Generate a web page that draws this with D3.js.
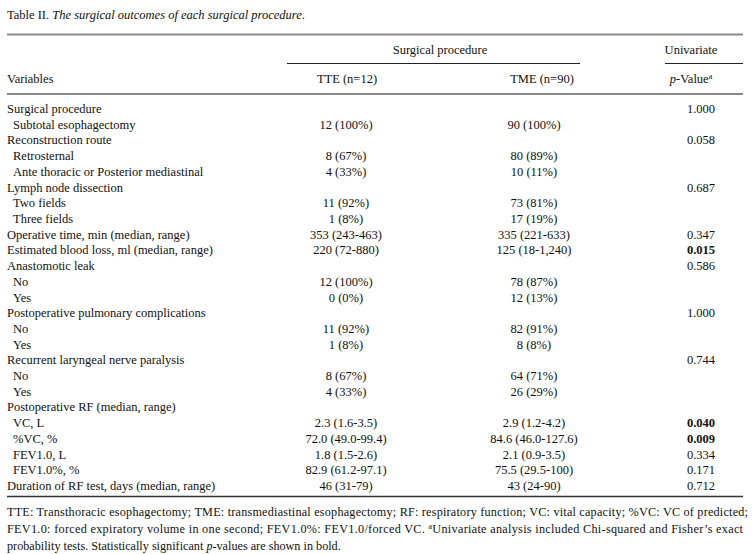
<!DOCTYPE html>
<html>
<head>
<meta charset="utf-8">
<script src="https://cdn.jsdelivr.net/npm/d3@7"></script>
<style>
  html, body { margin: 0; padding: 0; background: #fff; }
  svg { display: block; }
  text { font-family: "Liberation Serif", "Times New Roman", serif; fill: #111; }
</style>
</head>
<body>
<svg id="chart" width="755" height="554"></svg>
<script>
// ---- data ----
const variables = [
  "Surgical procedure",
  "Subtotal esophagectomy",
  "Reconstruction route",
  "Retrosternal",
  "Ante thoracic or Posterior mediastinal",
  "Lymph node dissection",
  "Two fields",
  "Three fields",
  "Operative time, min (median, range)",
  "Estimated blood loss, ml (median, range)",
  "Anastomotic leak",
  "No",
  "Yes",
  "Postoperative pulmonary complications",
  "No",
  "Yes",
  "Recurrent laryngeal nerve paralysis",
  "No",
  "Yes",
  "Postoperative RF (median, range)",
  "VC, L",
  "%VC, %",
  "FEV1.0, L",
  "FEV1.0%, %",
  "Duration of RF test, days (median, range)"
];
const indented = [0,1,0,1,1,0,1,1,0,0,0,1,1,0,1,1,0,1,1,0,1,1,1,1,0];
const tteValues = [
  "", "12 (100%)", "", "8 (67%)", "4 (33%)", "", "11 (92%)", "1 (8%)",
  "353 (243-463)", "220 (72-880)", "", "12 (100%)", "0 (0%)", "",
  "11 (92%)", "1 (8%)", "", "8 (67%)", "4 (33%)", "",
  "2.3 (1.6-3.5)", "72.0 (49.0-99.4)", "1.8 (1.5-2.6)", "82.9 (61.2-97.1)", "46 (31-79)"
];
const tmeValues = [
  "", "90 (100%)", "", "80 (89%)", "10 (11%)", "", "73 (81%)", "17 (19%)",
  "335 (221-633)", "125 (18-1,240)", "", "78 (87%)", "12 (13%)", "",
  "82 (91%)", "8 (8%)", "", "64 (71%)", "26 (29%)", "",
  "2.9 (1.2-4.2)", "84.6 (46.0-127.6)", "2.1 (0.9-3.5)", "75.5 (29.5-100)", "43 (24-90)"
];
const pValues = [
  "1.000", "", "0.058", "", "", "0.687", "", "",
  "0.347", "0.015", "0.586", "", "", "1.000",
  "", "", "0.744", "", "", "",
  "0.040", "0.009", "0.334", "0.171", "0.712"
];
const significant = [0,0,0,0,0,0,0,0,0,1,0,0,0,0,0,0,0,0,0,0,1,1,0,0,0];
const columnHeaders = ["Variables", "TTE (n=12)", "TME (n=90)"];
const spanHeaders = ["Surgical procedure", "Univariate"];

// ---- drawing ----
const svg = d3.select("#chart");
const left = 7, right = 743;
const fs = 12.5;

const rowIdx = d3.range(variables.length);
const y = d3.scalePoint().domain(rowIdx).range([113, 490]);

const col = d3.scaleOrdinal()
  .domain(["label", "tte", "tme", "p"])
  .range([left, 346, 534, 701]);

// Title
const title = svg.append("text").attr("x", left).attr("y", 19).attr("font-size", fs);
title.append("tspan").text("Table II. ");
title.append("tspan").attr("font-style", "italic").text("The surgical outcomes of each surgical procedure");
title.append("tspan").text(".");

// Rules
const rule = (x1, x2, yy, w, c) => svg.append("line")
  .attr("x1", x1).attr("x2", x2).attr("y1", yy).attr("y2", yy)
  .attr("stroke", c).attr("stroke-width", w);
rule(left, right, 34.5, 2, "#8a8a8a");
rule(287, 580, 63.5, 1, "#222");
rule(665, right, 63.5, 1, "#222");
rule(left, right, 94, 2, "#8a8a8a");
rule(left, right, 496.5, 1.5, "#333");

// Spanning headers
svg.append("text").attr("x", 440).attr("y", 54).attr("font-size", fs)
  .attr("text-anchor", "middle").text(spanHeaders[0]);
svg.append("text").attr("x", 691).attr("y", 54).attr("font-size", fs)
  .attr("text-anchor", "middle").text(spanHeaders[1]);

// Column headers
svg.append("text").attr("x", left).attr("y", 83).attr("font-size", fs).text(columnHeaders[0]);
svg.append("text").attr("x", 347).attr("y", 83).attr("font-size", fs)
  .attr("text-anchor", "middle").text(columnHeaders[1]);
svg.append("text").attr("x", 542).attr("y", 83).attr("font-size", fs)
  .attr("text-anchor", "middle").text(columnHeaders[2]);
const ph = svg.append("text").attr("x", 691).attr("y", 83).attr("font-size", fs)
  .attr("text-anchor", "middle");
ph.append("tspan").attr("font-style", "italic").text("p");
ph.append("tspan").text("-Value");
ph.append("tspan").attr("font-size", 8).attr("dy", -4).text("a");

// Body rows
const rows = svg.append("g").selectAll("g").data(rowIdx).join("g")
  .attr("transform", i => `translate(0,${y(i)})`);
rows.append("text").attr("font-size", fs)
  .attr("x", i => col("label") + (indented[i] ? 6 : 0))
  .text(i => variables[i]);
rows.append("text").attr("font-size", fs).attr("text-anchor", "middle")
  .attr("x", col("tte")).text(i => tteValues[i]);
rows.append("text").attr("font-size", fs).attr("text-anchor", "middle")
  .attr("x", col("tme")).text(i => tmeValues[i]);
rows.append("text").attr("font-size", fs).attr("text-anchor", "middle")
  .attr("x", col("p"))
  .attr("font-weight", i => significant[i] ? "bold" : "normal")
  .text(i => pValues[i]);

// Footnote
const fnSize = 12.2;
const fn1 = svg.append("text").attr("x", left).attr("y", 516).attr("font-size", fnSize)
  .attr("textLength", right + 5 - left).attr("lengthAdjust", "spacing")
  .text("TTE: Transthoracic esophagectomy; TME: transmediastinal esophagectomy; RF: respiratory function; VC: vital capacity; %VC: VC of predicted;");
const fn2 = svg.append("text").attr("x", left).attr("y", 533).attr("font-size", fnSize)
  .attr("textLength", right - left).attr("lengthAdjust", "spacing");
fn2.append("tspan").text("FEV1.0: forced expiratory volume in one second; FEV1.0%: FEV1.0/forced VC. ");
fn2.append("tspan").attr("font-size", 8).attr("dy", -4).text("a");
fn2.append("tspan").attr("dy", 4).text("Univariate analysis included Chi-squared and Fisher\u2019s exact");
const fn3 = svg.append("text").attr("x", left).attr("y", 549.5).attr("font-size", fnSize);
fn3.append("tspan").text("probability tests. Statistically significant ");
fn3.append("tspan").attr("font-style", "italic").text("p");
fn3.append("tspan").text("-values are shown in bold.");
</script>
</body>
</html>
